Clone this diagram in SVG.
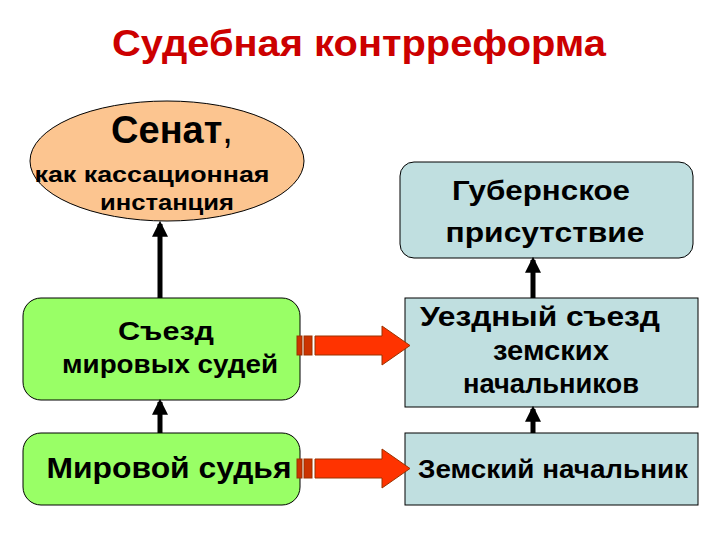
<svg xmlns="http://www.w3.org/2000/svg" width="720" height="540" viewBox="0 0 720 540">
<defs>
<style>
text{font-family:"Liberation Sans",Arial,sans-serif;font-weight:bold;text-anchor:middle;fill:#000}
.g{fill:#99ff66;stroke:#000;stroke-width:1}
.b{fill:#c0dfe0;stroke:#000;stroke-width:1}
.ar{fill:#ff3300;stroke:#993300;stroke-width:1}
.bar{fill:#cc3300;stroke:#993300;stroke-width:1}
.ln{stroke:#000;stroke-width:5;fill:none}
</style>
<marker id="h" viewBox="0 0 10 10" refX="8" refY="5" markerWidth="3.2" markerHeight="3.2" orient="auto" markerUnits="strokeWidth"><path d="M0,0L10,5L0,10z" fill="#000"/></marker>
</defs>
<text x="359" y="56" font-size="36" textLength="494" lengthAdjust="spacingAndGlyphs" style="fill:#cc0000">Судебная контрреформа</text>
<g id="senat"><ellipse cx="167" cy="161" rx="137" ry="60" fill="#fcc590" stroke="#000"/>
<text x="172" y="143" font-size="38">Сенат<tspan font-weight="normal">,</tspan></text>
<text x="152" y="182" font-size="22" textLength="235" lengthAdjust="spacingAndGlyphs">как кассационная</text>
<text x="167" y="210" font-size="22" textLength="134" lengthAdjust="spacingAndGlyphs">инстанция</text></g>
<g id="sezd"><rect class="g" x="23" y="298" width="277" height="102" rx="18"/>
<text x="166" y="340" font-size="25" textLength="96" lengthAdjust="spacingAndGlyphs">Съезд</text><text x="170" y="373" font-size="25" textLength="216" lengthAdjust="spacingAndGlyphs">мировых судей</text></g>
<g id="sudya"><rect class="g" x="23" y="433" width="277" height="72" rx="18"/>
<text x="169" y="478" font-size="30" textLength="245" lengthAdjust="spacingAndGlyphs">Мировой судья</text></g>
<g id="gub"><rect class="b" x="400" y="162" width="293" height="96" rx="14"/>
<text x="541" y="200" font-size="28" textLength="178" lengthAdjust="spacingAndGlyphs">Губернское</text><text x="545" y="242" font-size="28" textLength="199" lengthAdjust="spacingAndGlyphs">присутствие</text></g>
<g id="uezd"><rect class="b" x="405" y="298" width="293" height="109"/>
<text x="540" y="326" font-size="27" textLength="240" lengthAdjust="spacingAndGlyphs">Уездный съезд</text><text x="551" y="360" font-size="27" textLength="116" lengthAdjust="spacingAndGlyphs">земских</text><text x="551" y="393" font-size="27" textLength="176" lengthAdjust="spacingAndGlyphs">начальников</text></g>
<g id="zem"><rect class="b" x="405" y="433" width="293" height="72"/>
<text x="553" y="478" font-size="26" textLength="270" lengthAdjust="spacingAndGlyphs">Земский начальник</text></g>
<g id="connectors">
<line class="ln" x1="160" y1="298" x2="160" y2="224" marker-end="url(#h)"/>
<line class="ln" x1="160" y1="433" x2="160" y2="402" marker-end="url(#h)"/>
<line class="ln" x1="533" y1="298" x2="533" y2="260" marker-end="url(#h)"/>
<line class="ln" x1="533" y1="433" x2="533" y2="409" marker-end="url(#h)"/>
<rect class="bar" x="297" y="336" width="5" height="19"/><rect class="bar" x="304" y="336" width="8" height="19"/>
<path class="ar" d="M315,336H382V326L410,345.5L382,365V355H315Z"/>
<rect class="bar" x="297" y="459" width="5" height="19"/><rect class="bar" x="304" y="459" width="8" height="19"/>
<path class="ar" d="M315,459H382V449L410,468.5L382,488V478H315Z"/>
</g>
</svg>
